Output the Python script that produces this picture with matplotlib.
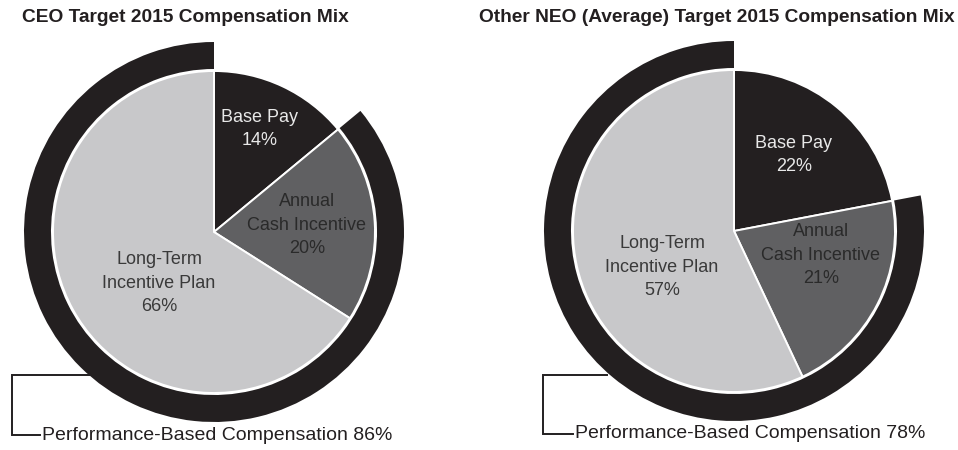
import numpy as np
import matplotlib
matplotlib.use('Agg')
import matplotlib.pyplot as plt

plt.rcParams['font.family'] = ['Liberation Sans', 'DejaVu Sans']

titles = ['CEO Target 2015 Compensation Mix',
          'Other NEO (Average) Target 2015 Compensation Mix']
categories = ['Base Pay', 'Annual\nCash Incentive', 'Long-Term\nIncentive Plan']
ceo_values = [14, 20, 66]
neo_values = [22, 21, 57]
perf_based = [86, 78]

slice_colors = ['#231f20', '#606062', '#c8c8ca']
text_colors = ['#e8e8e8', '#2a2a2a', '#3a3a3a']
ring_color = '#231f20'

W, H = 958, 450
fig = plt.figure(figsize=(W / 100, H / 100), dpi=100)
ax = fig.add_axes([0, 0, 1, 1])

# layout in pixel units (y measured from top of the image)
charts = [
    dict(values=ceo_values, perf=perf_based[0], cx=214, cy=232,
         title_x=22, title_ha='left',
         labels=[(260, 129), (307, 225), (159, 283)],
         bracket=[(90, 375), (12, 375), (12, 435), (40, 435)], text_x=42),
    dict(values=neo_values, perf=perf_based[1], cx=734, cy=231,
         title_x=955, title_ha='right',
         labels=[(794, 155), (821, 255), (662, 267)],
         bracket=[(607, 375), (543, 375), (543, 434), (573, 434)], text_x=575),
]

r_pie = 161
r_ring = 190
ring_w = 27

for title, ch in zip(titles, charts):
    center = (ch['cx'], H - ch['cy'])
    vals = ch['values']
    # outer ring marking performance-based pay (everything except base pay)
    ax.pie([vals[0], ch['perf']], colors=['none', ring_color], startangle=90,
           counterclock=False, radius=r_ring, center=center,
           wedgeprops=dict(width=ring_w, linewidth=0))
    ax.pie(vals, colors=slice_colors, startangle=90, counterclock=False,
           radius=r_pie, center=center,
           wedgeprops=dict(edgecolor='white', linewidth=1.4))
    for cat, v, (lx, ly), tc in zip(categories, vals, ch['labels'], text_colors):
        ax.text(lx, H - ly, f'{cat}\n{v}%', ha='center', va='center',
                fontsize=13, color=tc, linespacing=1.5)
    bx, by = zip(*ch['bracket'])
    ax.plot(bx, [H - y for y in by], color='#231f20', lw=1.4,
            solid_joinstyle='miter')
    ax.text(ch['text_x'], H - ch['bracket'][-1][1],
            f'Performance-Based Compensation {ch["perf"]}%',
            ha='left', va='center', fontsize=14, color='#231f20')
    ax.text(ch['title_x'], H - 18, title, ha=ch['title_ha'], va='center',
            fontsize=13.8, fontweight='bold', color='#231f20')

ax.set_xlim(0, W)
ax.set_ylim(0, H)
ax.set_aspect('equal')
ax.axis('off')

fig.savefig('out.png', dpi=100, facecolor='white')
